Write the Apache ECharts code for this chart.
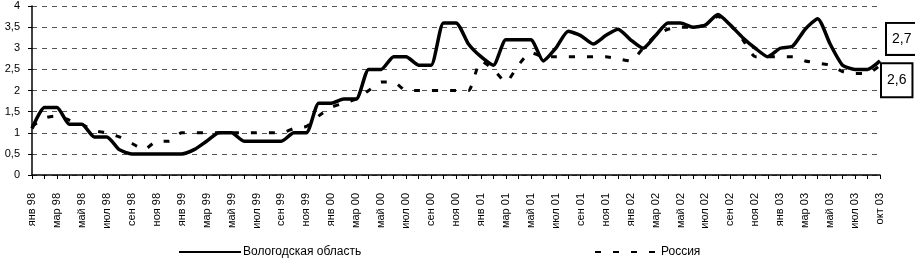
<!DOCTYPE html>
<html>
<head>
<meta charset="utf-8">
<script src="https://cdn.jsdelivr.net/npm/echarts@6/dist/echarts.min.js"></script>
<style>
html,body{margin:0;padding:0;background:#fff;}
#chart{width:915px;height:265px;}
</style>
</head>
<body>
<div id="chart"></div>
<script>
var categories = [
  'янв 98','фев 98','мар 98','апр 98','май 98','июн 98','июл 98','авг 98','сен 98','окт 98','ноя 98','дек 98',
  'янв 99','фев 99','мар 99','апр 99','май 99','июн 99','июл 99','авг 99','сен 99','окт 99','ноя 99','дек 99',
  'янв 00','фев 00','мар 00','апр 00','май 00','июн 00','июл 00','авг 00','сен 00','окт 00','ноя 00','дек 00',
  'янв 01','фев 01','мар 01','апр 01','май 01','июн 01','июл 01','авг 01','сен 01','окт 01','ноя 01','дек 01',
  'янв 02','фев 02','мар 02','апр 02','май 02','июн 02','июл 02','авг 02','сен 02','окт 02','ноя 02','дек 02',
  'янв 03','фев 03','мар 03','апр 03','май 03','июн 03','июл 03','сен 03','окт 03'
];
var vologda = [
  1.1,1.6,1.6,1.2,1.2,0.9,0.9,0.6,0.5,0.5,0.5,0.5,
  0.5,0.6,0.8,1.0,1.0,0.8,0.8,0.8,0.8,1.0,1.0,1.7,
  1.7,1.8,1.8,2.5,2.5,2.8,2.8,2.6,2.6,3.6,3.6,3.1,
  2.8,2.6,3.2,3.2,3.2,2.7,3.0,3.4,3.3,3.1,3.3,3.45,
  3.2,3.0,3.3,3.6,3.6,3.5,3.55,3.8,3.55,3.25,3.0,2.8,
  3.0,3.05,3.45,3.7,3.1,2.6,2.5,2.5,2.7
];
var russia = [
  1.15,1.35,1.4,1.3,1.2,1.05,1.0,0.9,0.75,0.6,0.8,0.8,
  1.0,1.0,1.0,1.0,1.0,1.0,1.0,1.0,1.0,1.1,1.15,1.4,
  1.6,1.7,1.8,2.0,2.2,2.2,2.0,2.0,2.0,2.0,2.0,2.0,
  2.7,2.5,2.2,2.6,2.9,2.8,2.8,2.8,2.8,2.8,2.8,2.75,
  2.7,3.0,3.3,3.45,3.5,3.5,3.55,3.75,3.55,3.2,2.8,2.8,
  2.8,2.8,2.7,2.65,2.6,2.45,2.4,2.4,2.6
];
var seriesNames = ['Вологодская область','Россия'];

var FONT = '"Liberation Sans", Arial, sans-serif';
function comma(v){ return String(v).replace('.', ','); }

var chart = echarts.init(document.getElementById('chart'), null, {renderer:'canvas'});
chart.setOption({
  animation: false,
  backgroundColor: '#fff',
  textStyle: {fontFamily: FONT, color: '#000'},
  grid: {left: 32, right: 35, top: 6, bottom: 90, containLabel: false},
  legend: [
    {data: [seriesNames[0]], left: 178, top: 246, itemWidth: 62, itemHeight: 12, padding: 0,
     itemStyle: {opacity: 0},
     textStyle: {fontFamily: FONT, fontSize: 12, color: '#000', padding: [0,0,0,-3]}},
    {data: [seriesNames[1]], left: 594, top: 246, itemWidth: 64, itemHeight: 12, padding: 0,
     itemStyle: {opacity: 0},
     textStyle: {fontFamily: FONT, fontSize: 12, color: '#000', padding: [0,0,0,-3]}}
  ],
  xAxis: {
    type: 'category',
    data: categories,
    boundaryGap: false,
    axisLine: {lineStyle: {color: '#000', width: 1.5}},
    axisTick: {show: true, interval: 0, length: 4, lineStyle: {color: '#000', width: 1}},
    axisLabel: {interval: 1, rotate: 90, fontSize: 11, margin: 18, color: '#000', fontFamily: FONT},
    splitLine: {show: false}
  },
  yAxis: {
    type: 'value',
    min: 0, max: 4, interval: 0.5,
    axisLine: {show: true, lineStyle: {color: '#000', width: 1.5}},
    axisTick: {show: true, length: 4, lineStyle: {color: '#000'}},
    axisLabel: {fontSize: 11, margin: 12, color: '#000', fontFamily: FONT, formatter: comma},
    splitLine: {show: true, lineStyle: {color: '#555', width: 1, type: [5, 5]}}
  },
  series: [
    {
      name: seriesNames[0], type: 'line', data: vologda, symbol: 'none', smooth: 0.2, z: 3,
      lineStyle: {color: '#000', width: 3.5},
      itemStyle: {color: '#000'},
      endLabel: {
        show: true, formatter: function(p){ return comma(p.value); },
        offset: [-1, -22], fontSize: 14, fontFamily: FONT, color: '#000',
        backgroundColor: '#fff', borderColor: '#000', borderWidth: 2, padding: [8, 5, 8, 5]
      }
    },
    {
      name: seriesNames[1], type: 'line', data: russia, symbol: 'none', smooth: 0.2, z: 2,
      lineStyle: {color: '#000', width: 3, type: [6, 12]},
      itemStyle: {color: '#000'},
      endLabel: {
        show: true, formatter: function(p){ return comma(p.value); },
        offset: [-6, 15], fontSize: 14, fontFamily: FONT, color: '#000',
        backgroundColor: '#fff', borderColor: '#000', borderWidth: 2, padding: [9, 5, 9, 5]
      }
    }
  ]
});
</script>
</body>
</html>
